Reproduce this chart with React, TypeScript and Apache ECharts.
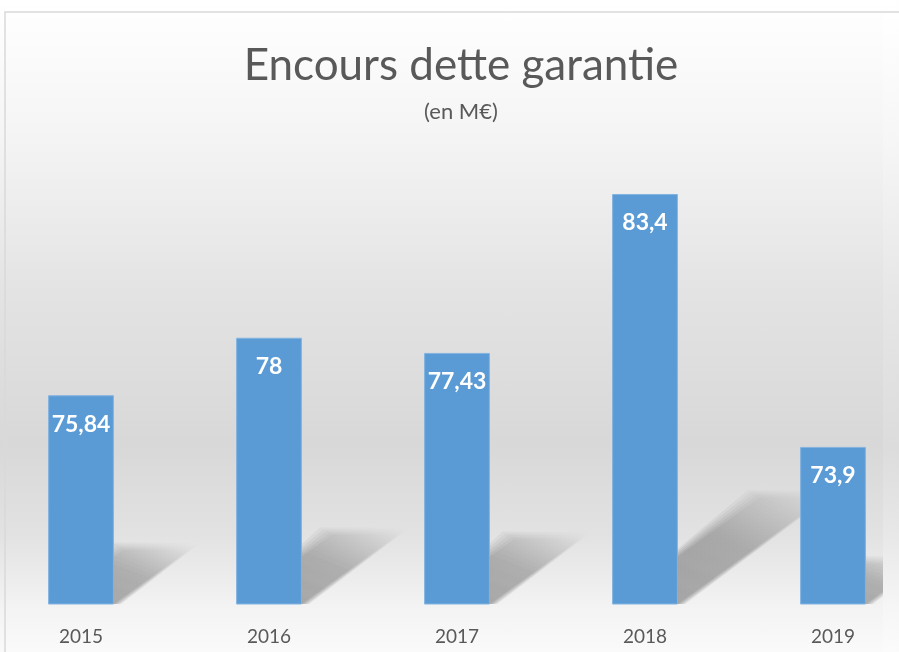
import React, { useEffect, useRef } from "react";
import * as echarts from "echarts";

const categories = ["2015", "2016", "2017", "2018", "2019"];
const values = [75.84, 78, 77.43, 83.4, 73.9];
const titleText = "Encours dette garantie";
const subtitleText = "(en M€)";

export default function App() {
  const ref = useRef<HTMLDivElement>(null);
  useEffect(() => {
    if (!ref.current) return;
    const chart = echarts.init(ref.current, undefined, { renderer: "svg" });
    const bgGrad = new echarts.graphic.LinearGradient(0, 0, 0, 1, [
      { offset: 0, color: "#ffffff" },
      { offset: 0.2, color: "#f5f5f5" },
      { offset: 0.45, color: "#e3e3e3" },
      { offset: 0.68, color: "#d8d8d8" },
      { offset: 0.82, color: "#e2e2e2" },
      { offset: 0.93, color: "#f3f3f3" },
      { offset: 1, color: "#fafafa" },
    ]);
    const stripGrad = new echarts.graphic.LinearGradient(0, 0, 0, 1, [
      { offset: 0, color: "#ffffff" },
      { offset: 0.2, color: "#f6f6f6" },
      { offset: 0.45, color: "#e6e6e6" },
      { offset: 0.68, color: "#dcdcdc" },
      { offset: 0.82, color: "#e8e8e8" },
      { offset: 0.93, color: "#f6f6f6" },
      { offset: 1, color: "#fbfbfb" },
    ]);
    chart.setOption({
      animation: false,
      title: {
        text: titleText,
        subtext: subtitleText,
        left: 456,
        top: 36,
        textAlign: "center",
        itemGap: 14,
        textStyle: {
          fontFamily: "Lato",
          fontWeight: "normal",
          fontSize: 44,
          color: "#595959",
        },
        subtextStyle: {
          fontFamily: "Lato",
          fontSize: 22,
          color: "#595959",
        },
      },
      graphic: [
        {
          type: "rect",
          z: -10,
          silent: true,
          shape: { x: 0, y: 0, width: 899, height: 652 },
          style: { fill: bgGrad },
        },
        {
          type: "rect",
          z: 100,
          silent: true,
          shape: { x: 883, y: 13, width: 16, height: 639 },
          style: { fill: stripGrad },
        },
        {
          type: "rect",
          z: 101,
          silent: true,
          shape: { x: 5, y: 12, width: 905, height: 660 },
          style: { fill: "none", stroke: "#d9d9d9", lineWidth: 1.5 },
        },
      ],
      grid: {
        left: -13,
        width: 940,
        top: 178,
        bottom: 48,
        containLabel: false,
        outerBoundsMode: "none",
      },
      xAxis: {
        type: "category",
        data: categories,
        axisLine: { show: false },
        axisTick: { show: false },
        axisLabel: {
          margin: 22,
          fontFamily: "Lato",
          fontSize: 19,
          color: "#595959",
        },
      },
      yAxis: {
        type: "value",
        min: 68,
        max: 84,
        show: false,
        splitLine: { show: false },
      },
      series: [
        {
          type: "custom",
          z: 1,
          silent: true,
          clip: false,
          data: categories.map((c, i) => [i, values[i]]),
          renderItem: (params: any, api: any) => {
            const idx = api.value(0);
            const v = api.value(1);
            const top = api.coord([idx, v]);
            const base = api.coord([idx, 68]);
            const bw = api.size([1, 0])[0] * 0.35;
            const h = base[1] - top[1];
            const dx = h * 0.36;
            const dy = h * 0.26;
            const x0 = base[0] - bw / 2;
            const x1 = base[0] + bw / 2;
            const yb = base[1];
            const children: any[] = [];
            const layers = [12, 9, 6, 3, 0];
            layers.forEach((e) => {
              children.push({
                type: "polygon",
                shape: {
                  points: [
                    [x0, yb],
                    [x1 + e * 0.6, yb],
                    [x1 + dx + e, yb - dy - e * 0.6],
                    [x0 + dx - e, yb - dy - e * 0.6],
                  ],
                },
                style: {
                  fill: new echarts.graphic.LinearGradient(0, 1, 1, 0, [
                    { offset: 0, color: "rgba(0,0,0,0.08)" },
                    { offset: 0.55, color: "rgba(0,0,0,0.058)" },
                    { offset: 1, color: "rgba(0,0,0,0.0)" },
                  ]),
                },
              });
            });
            return { type: "group", children };
          },
        },
        {
          type: "bar",
          z: 3,
          data: values,
          barWidth: "35%",
          itemStyle: {
            color: "#5b9bd5",
            borderColor: "#82b3e0",
            borderWidth: 1,
          },
          label: {
            show: true,
            position: "insideTop",
            distance: 16,
            fontFamily: "Lato",
            fontWeight: "bold",
            fontSize: 23,
            color: "#ffffff",
            formatter: (p: any) => String(p.value).replace(".", ","),
          },
        },
      ],
    });
    return () => chart.dispose();
  }, []);
  return (
    <div
      ref={ref}
      style={{ position: "fixed", left: 0, top: 0, width: 899, height: 652 }}
    />
  );
}
